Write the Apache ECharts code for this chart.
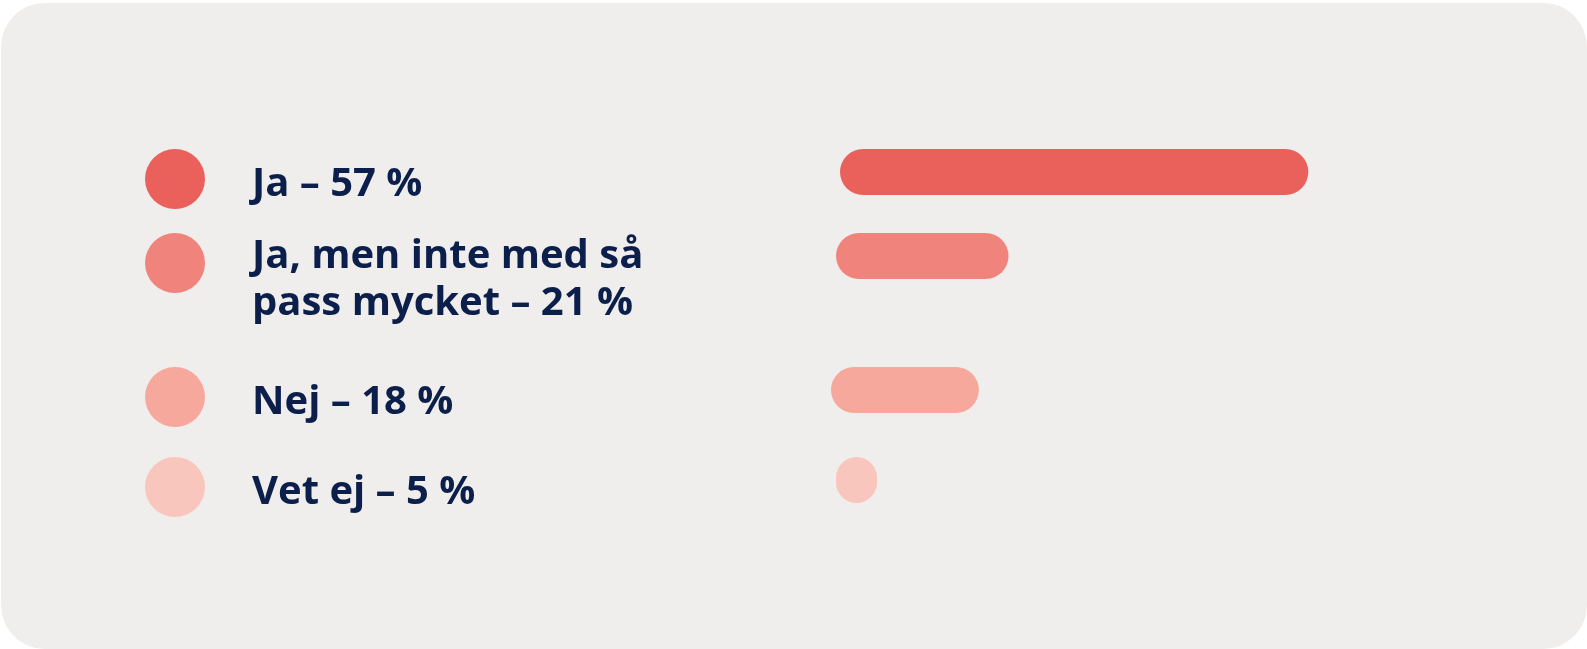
<!DOCTYPE html>
<html>
<head>
<meta charset="utf-8">
<script src="https://cdn.jsdelivr.net/npm/echarts@6/dist/echarts.min.js"></script>
<style>
  body { margin: 0; background: #fff; }
  #card { position: absolute; left: 1px; top: 3px; width: 1586px; height: 646px; background: #f0eeec; border-radius: 44px; }
  #chart { position: absolute; left: 0; top: 0; width: 1587px; height: 649px; }
</style>
</head>
<body>
<div id="card"></div>
<div id="chart"></div>
<script>
var labels = ['Ja', 'Ja, men inte med så\npass mycket', 'Nej', 'Vet ej'];
var values = [57, 21, 18, 5];
var colors = ['#ea605a', '#f0847c', '#f6a89c', '#f9c6bd'];

// layout per rad (vänsterkant och mitt för stapeln)
var rowLeft = [840, 836, 831, 836];
var rowMid = [172, 256, 390, 480];
var dotLeft = 145;

var chart = echarts.init(document.getElementById('chart'));

function labelText(i) {
  var lines = (labels[i] + ' – ' + values[i] + ' %').split('\n');
  if (lines.length === 1) return '{dot|}{g|}{ts|' + lines[0] + '}';
  return lines.map(function (l, k) {
    return (k === 0 ? '{dotTop|}' : '{sp|}') + '{g|}{t|' + l + '}';
  }).join('\n');
}

function richFor(i) {
  var txt = { fontFamily: 'Open Sans', fontWeight: 'bold', fontSize: 40, color: '#0c1f4b', lineHeight: 47 };
  return {
    // cirkeln i en tvåradig etikett hänger nedåt så att raderna kan ligga tätt
    dotTop: { width: 60, height: 60, lineHeight: 47, verticalAlign: 'top', borderRadius: 30, backgroundColor: colors[i] },
    dot: { width: 60, height: 60, lineHeight: 60, borderRadius: 30, backgroundColor: colors[i] },
    sp: { width: 60, height: 10, lineHeight: 47 },
    g: { width: 47, height: 10, lineHeight: 47 },
    t: txt,
    ts: Object.assign({ padding: [12, 0, 0, 0] }, txt)
  };
}

var grids = [], xAxes = [], yAxes = [], series = [];
for (var i = 0; i < values.length; i++) {
  grids.push({ left: rowLeft[i], top: rowMid[i] - 30, height: 60, width: 493 });
  xAxes.push({ gridIndex: i, type: 'value', min: 0, max: 60, show: false });
  yAxes.push({ gridIndex: i, type: 'category', data: [labels[i]], show: false });
  series.push({
    type: 'bar',
    xAxisIndex: i,
    yAxisIndex: i,
    data: [values[i]],
    barWidth: 46,
    itemStyle: { color: colors[i], borderRadius: 23 },
    label: {
      show: true,
      position: [dotLeft - rowLeft[i], 0],
      align: 'left',
      verticalAlign: 'top',
      formatter: labelText(i),
      rich: richFor(i)
    },
    silent: true
  });
}

chart.setOption({
  animation: false,
  grid: grids,
  xAxis: xAxes,
  yAxis: yAxes,
  series: series
});
</script>
</body>
</html>
